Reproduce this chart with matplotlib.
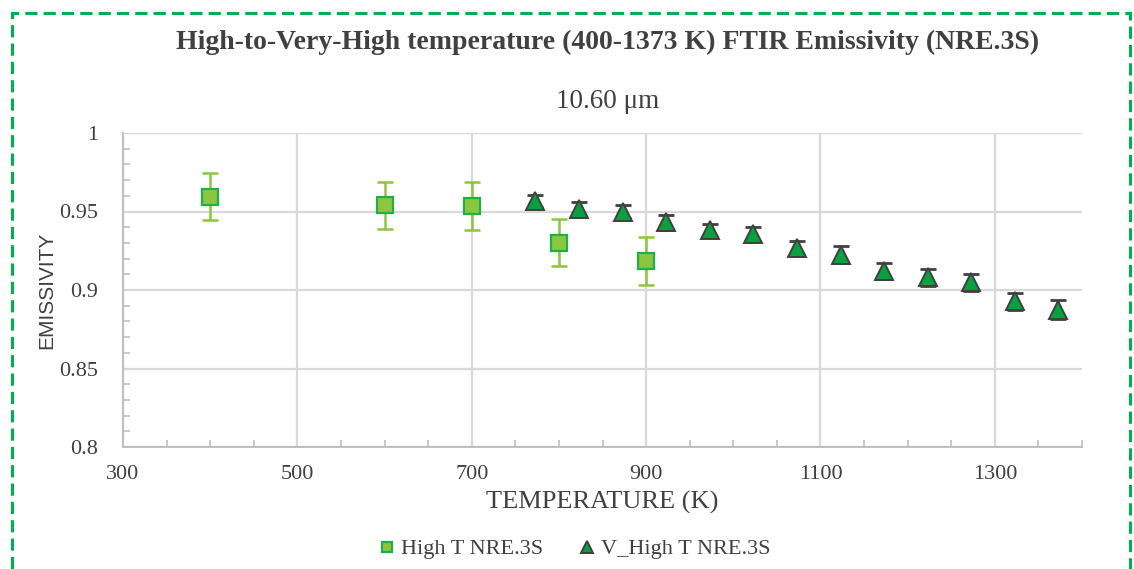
import matplotlib.pyplot as plt
import matplotlib.patches as mpatches
from matplotlib.ticker import MultipleLocator

# High T NRE.3S (squares)
t_high = [400, 600, 700, 800, 900]
e_high = [0.9595, 0.954, 0.9535, 0.930, 0.9185]
err_high = [0.015, 0.015, 0.015, 0.015, 0.015]

# V_High T NRE.3S (triangles)
t_vhigh = [773, 823, 873, 923, 973, 1023, 1073, 1123, 1173, 1223, 1273, 1323, 1373]
e_vhigh = [0.9567, 0.9516, 0.950, 0.943, 0.938, 0.9355, 0.927, 0.9226, 0.912,
           0.908, 0.9048, 0.8927, 0.8875]
err_vhigh = [0.004, 0.0045, 0.004, 0.0045, 0.004, 0.0045, 0.0045, 0.0055, 0.005,
             0.0055, 0.0055, 0.0055, 0.006]

gray = '#404040'
serif = 'Liberation Serif'

fig = plt.figure(figsize=(11.34, 5.69), dpi=100)
ax = fig.add_axes([123 / 1134, 1 - 447 / 569, (1082 - 123) / 1134, (447 - 133) / 569])

ax.errorbar(t_high, e_high, yerr=err_high, fmt='none', ecolor='#8CC63F',
            elinewidth=1.8, capsize=6, capthick=1.8, zorder=3)
ax.plot(t_high, e_high, 's', ms=11, mfc='#8CC63F', mec='#1FAF4B', mew=1.6,
        zorder=4, label='High T NRE.3S')
ax.errorbar(t_vhigh, e_vhigh, yerr=err_vhigh, fmt='none', ecolor=gray,
            elinewidth=1.8, capsize=6, capthick=2, zorder=3)
ax.plot(t_vhigh, e_vhigh, '^', ms=13.5, mfc='#08A13F', mec=gray, mew=1.4,
        zorder=4, label='V_High T NRE.3S')

ax.set_xlim(300, 1400)
ax.set_ylim(0.8, 1.0)
ax.set_xticks([300, 500, 700, 900, 1100, 1300])
ax.set_yticks([0.8, 0.85, 0.9, 0.95, 1.0])
ax.set_yticklabels(['0.8', '0.85', '0.9', '0.95', '1'])
ax.xaxis.set_minor_locator(MultipleLocator(50))
ax.yaxis.set_minor_locator(MultipleLocator(0.01))
ax.grid(True, which='major', color='#D9D9D9', lw=1.6, zorder=0)
ax.set_axisbelow(True)
for s in ['top', 'right']:
    ax.spines[s].set_visible(False)
for s in ['left', 'bottom']:
    ax.spines[s].set_color('#BFBFBF')
    ax.spines[s].set_linewidth(1.5)
ax.tick_params(which='major', length=0, labelsize=16, labelcolor=gray)
ax.tick_params(axis='x', which='major', pad=13)
ax.tick_params(axis='y', which='major', pad=18)
ax.tick_params(which='minor', direction='in', length=5, color='#BFBFBF', width=1.2)
for lab in ax.get_xticklabels() + ax.get_yticklabels():
    lab.set_family(serif)

ax.set_xlabel('TEMPERATURE (K)', family=serif, fontsize=19, color=gray, labelpad=5)
ax.set_ylabel('EMISSIVITY', family='Liberation Sans', fontsize=15, color=gray, labelpad=2)

fig.text(0.536, 1 - 42 / 569, 'High-to-Very-High temperature (400-1373 K) FTIR Emissivity (NRE.3S)',
         family=serif, fontweight='bold', fontsize=20, color=gray, ha='center', va='center')
fig.text(0.536, 1 - 102 / 569, '10.60 μm', family=serif, fontsize=19.5, color=gray,
         ha='center', va='center')

leg = fig.legend(loc='center', bbox_to_anchor=(572 / 1134, 1 - 549 / 569), ncol=2, frameon=False,
                 prop={'family': serif, 'size': 16}, handletextpad=0.0, columnspacing=1.4,
                 markerscale=0.6, handlelength=1.2)
for t in leg.get_texts():
    t.set_color(gray)

fig.patches.append(mpatches.Rectangle((12 / 1134, -0.05), (1130 - 12) / 1134, 1 - 13 / 569 + 0.05,
                                      transform=fig.transFigure, fill=False, ec='#00B050',
                                      lw=2.2, ls=(0, (4, 2))))

fig.savefig('out.png', dpi=100)
